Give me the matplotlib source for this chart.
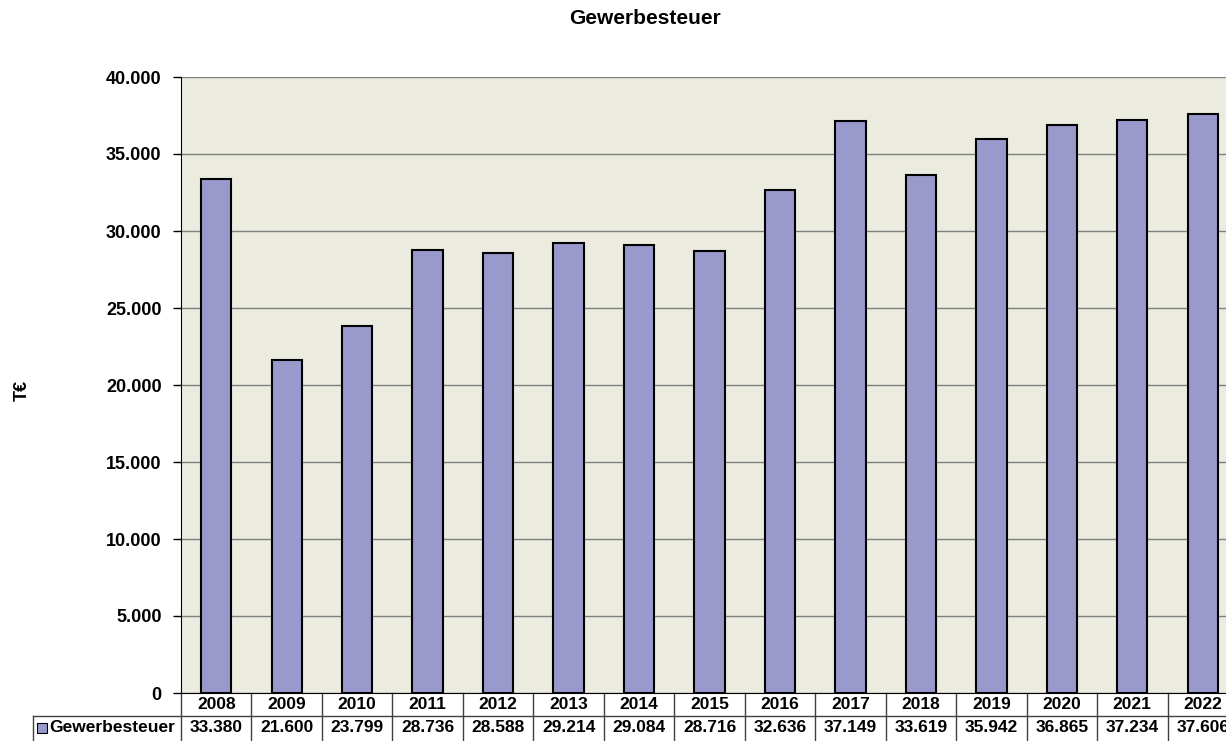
import numpy as np
import matplotlib.pyplot as plt
import matplotlib.transforms as mtransforms
from matplotlib.patches import Rectangle

# Daten
jahre = ["2008", "2009", "2010", "2011", "2012", "2013", "2014", "2015",
         "2016", "2017", "2018", "2019", "2020", "2021", "2022"]
gewerbesteuer = [33380, 21600, 23799, 28736, 28588, 29214, 29084, 28716,
                 32636, 37149, 33619, 35942, 36865, 37234, 37606]
yticks = [0, 5000, 10000, 15000, 20000, 25000, 30000, 35000, 40000]

plt.rcParams['font.family'] = ['Liberation Sans', 'DejaVu Sans']
plt.rcParams['font.weight'] = 'bold'

bar_farbe = "#9999cc"
hg_farbe = "#ecebe0"
linie = "#404040"
fs_tab = 12.5


def de(v):
    return f"{v:,}".replace(",", ".")


fig = plt.figure(figsize=(12.26, 7.41), dpi=100)
# Plotbereich läuft rechts über den Rand hinaus (wie im Original abgeschnitten)
ax = fig.add_axes([181 / 1226, 1 - 693 / 741, 1057 / 1226, 616 / 741])
ax.set_facecolor(hg_farbe)

x = np.arange(len(jahre))
ax.bar(x, gewerbesteuer, width=0.43, color=bar_farbe, edgecolor="black",
       linewidth=1.5, zorder=3)

ax.set_xlim(-0.5, len(jahre) - 0.5)
ax.set_ylim(0, 40000)
ax.set_yticks(yticks)
ax.set_yticklabels([de(v) for v in yticks], fontsize=13, fontweight="bold")
ax.set_xticks([])
ax.tick_params(axis="y", direction="out", length=6, width=1, color="black", pad=8)
ax.grid(axis="y", color="#808080", linewidth=1, zorder=0)

for s in ["top", "right"]:
    ax.spines[s].set_visible(False)
ax.spines["left"].set_color("black")
ax.spines["bottom"].set_color("black")

fig.text(645 / 1226, 1 - 18 / 741, "Gewerbesteuer", ha="center", va="center",
         fontsize=15, fontweight="bold")
fig.text(22 / 1226, 1 - 390 / 741, "T€", ha="center", va="center",
         rotation=90, fontsize=13, fontweight="bold")

# Datentabelle unter der Achse
trans = mtransforms.blended_transform_factory(ax.transData, ax.transAxes)
h = 23 / 616
for i, (j, v) in enumerate(zip(jahre, gewerbesteuer)):
    ax.text(i, -h / 2, j, transform=trans, ha="center", va="center",
            fontsize=fs_tab, fontweight="bold", clip_on=False)
    ax.text(i, -1.5 * h, de(v), transform=trans, ha="center", va="center",
            fontsize=fs_tab, fontweight="bold", clip_on=False)
    ax.plot([i + 0.5, i + 0.5], [0, -3 * h], transform=trans, color=linie,
            linewidth=1, clip_on=False)

leg_x = (33 - 181) / 1057
ax.plot([leg_x, 1], [-h, -h], transform=ax.transAxes, color=linie,
        linewidth=1, clip_on=False)
ax.plot([leg_x, leg_x], [-h, -3 * h], transform=ax.transAxes, color=linie,
        linewidth=1, clip_on=False)
ax.plot([0, 0], [0, -3 * h], transform=ax.transAxes, color=linie,
        linewidth=1, clip_on=False)
ax.add_patch(Rectangle(((37 - 181) / 1057, -1.5 * h - 5 / 616), 10 / 1057, 10 / 616,
                       transform=ax.transAxes, facecolor=bar_farbe,
                       edgecolor="black", linewidth=0.8, clip_on=False))
ax.text((49 - 181) / 1057, -1.5 * h, "Gewerbesteuer", transform=ax.transAxes,
        ha="left", va="center", fontsize=fs_tab, fontweight="bold", clip_on=False)

fig.savefig("out.png", dpi=100)
